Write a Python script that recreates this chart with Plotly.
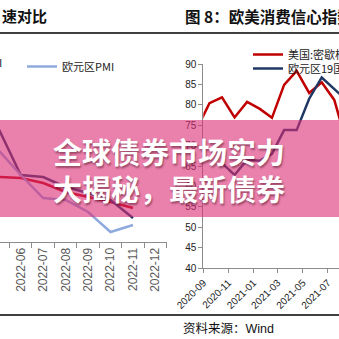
import plotly.graph_objects as go

W = H = 339


def px(x):
    return x / W


def py(y):
    return 1 - y / H


# ---- left panel: PMI comparison ----
pmi_months = ["2022-05", "2022-06", "2022-07", "2022-08", "2022-09", "2022-10", "2022-11"]
pmi_axis_months = pmi_months + ["2022-12"]
us_pmi = [56.8, 52.1, 51.9, 50.9, 50.3, 49.6, 47.8]
cn_pmi = [51.9, 51.8, 51.3, 50.4, 49.9, 49.4, 48.8]
ez_pmi = [54.6, 52.1, 49.8, 49.6, 48.4, 46.4, 47.1]

# ---- right panel: consumer confidence ----
us_months = ["2020-08", "2020-09", "2020-10", "2020-11", "2020-12", "2021-01", "2021-02",
             "2021-03", "2021-04", "2021-05", "2021-06", "2021-07", "2021-08"]
us_sent = [74.1, 80.4, 81.8, 76.9, 80.7, 79.0, 76.8, 84.9, 88.3, 82.9, 85.5, 81.2, 70.3]
ez_months = ["2020-10", "2020-11", "2020-12", "2021-01", "2021-02", "2021-03", "2021-04",
             "2021-05", "2021-06", "2021-07", "2021-08"]
ez_conf = [65.7, 62.8, 66.5, 66.3, 68.0, 73.8, 73.8, 81.5, 86.7, 83.9, 81.0]

name_us_pmi = "美国PMI"
name_cn_pmi = "中国PMI"
name_ez_pmi = "欧元区PMI"
name_us_sent = "美国:密歇根大学消费者信心指数"
name_ez_conf = "欧元区19国:消费者信心指数"

NAVY = "#1F3864"
RED = "#C00000"
LIGHT_BLUE = "#8FAADC"
CJK = "Noto Sans CJK SC"
LAT = "Liberation Sans, Noto Sans CJK SC"

fig = go.Figure()

fig.add_trace(go.Scatter(x=pmi_months, y=cn_pmi, mode="lines", name=name_cn_pmi,
                         line=dict(color=RED, width=2.5), showlegend=False,
                         xaxis="x", yaxis="y"))
fig.add_trace(go.Scatter(x=pmi_months, y=us_pmi, mode="lines", name=name_us_pmi,
                         line=dict(color=NAVY, width=2.5), showlegend=False,
                         xaxis="x", yaxis="y"))
fig.add_trace(go.Scatter(x=pmi_months, y=ez_pmi, mode="lines", name=name_ez_pmi,
                         line=dict(color=LIGHT_BLUE, width=2.5), legend="legend",
                         xaxis="x", yaxis="y"))

fig.add_trace(go.Scatter(x=us_months, y=us_sent, mode="lines", name=name_us_sent,
                         xperiod="M1", xperiodalignment="middle",
                         line=dict(color=RED, width=2.5), legend="legend2",
                         xaxis="x2", yaxis="y2"))
fig.add_trace(go.Scatter(x=ez_months, y=ez_conf, mode="lines", name=name_ez_conf,
                         xperiod="M1", xperiodalignment="middle",
                         line=dict(color=NAVY, width=2.5), legend="legend3",
                         xaxis="x2", yaxis="y2"))

legend_font = dict(family=CJK, size=11, color="#222")
fig.update_layout(
    width=W, height=H,
    margin=dict(l=0, r=0, t=0, b=0, pad=0, autoexpand=False),
    paper_bgcolor="white", plot_bgcolor="rgba(0,0,0,0)",
    xaxis=dict(
        domain=[0, px(166.7)], type="category",
        categoryorder="array", categoryarray=pmi_axis_months,
        range=[0.076, 7.5], tickson="boundaries",
        showline=True, linecolor="#8c8c8c", linewidth=1,
        ticks="outside", ticklen=5, tickcolor="#8c8c8c",
        tickangle=-90, tickfont=dict(family=LAT, size=12, color="#595959"),
        showgrid=False, zeroline=False, fixedrange=True,
    ),
    yaxis=dict(domain=[py(242), py(70)], range=[45.4, 62.6], visible=False),
    xaxis2=dict(
        domain=[px(203.3), 1], type="date",
        range=["2020-09-01", "2021-07-28"],
        tick0="2020-09-01", dtick="M2", tickformat="%Y-%m",
        showline=True, linecolor="#8c8c8c", linewidth=1,
        ticks="outside", ticklen=4, tickcolor="#8c8c8c",
        tickangle=-45, tickfont=dict(family=LAT, size=10, color="#222"),
        showgrid=False, zeroline=False, anchor="y2",
    ),
    yaxis2=dict(
        domain=[py(268), py(64)], range=[40, 90], dtick=5,
        showline=True, linecolor="#8c8c8c", linewidth=1,
        ticks="outside", ticklen=4, tickcolor="#8c8c8c",
        tickfont=dict(family=LAT, size=10, color="#222"),
        showgrid=False, zeroline=False, anchor="x2",
    ),
    legend=dict(x=px(22), y=py(52), xanchor="left", yanchor="top",
                orientation="h", bgcolor="rgba(0,0,0,0)", font=legend_font),
    legend2=dict(x=px(248), y=py(40), xanchor="left", yanchor="top",
                 bgcolor="rgba(0,0,0,0)", font=legend_font),
    legend3=dict(x=px(248), y=py(54), xanchor="left", yanchor="top",
                 bgcolor="rgba(0,0,0,0)", font=legend_font),
)

# header / footer rules
for yy in (33, 315):
    fig.add_shape(type="line", xref="paper", yref="paper", x0=0, x1=1,
                  y0=py(yy), y1=py(yy), line=dict(color="black", width=1.5))

# pink banner across the middle
fig.add_shape(type="rect", xref="paper", yref="paper", x0=0, x1=1,
              y0=py(217), y1=py(120), layer="above",
              fillcolor="rgba(220,45,118,0.6)", line=dict(width=0))

annos = [
    dict(text="速对比", x=px(49), y=py(15.5), xanchor="right", yanchor="middle",
         font=dict(family=CJK, size=15, color="#111", weight="bold")),
    dict(text="图 8：欧美消费信心指数", x=px(183), y=py(15.5), xanchor="left", yanchor="middle",
         font=dict(family=CJK, size=15.5, color="#111", weight="bold")),
    dict(text=name_us_pmi, x=px(3.5), y=py(62), xanchor="right", yanchor="middle",
         font=legend_font),
    dict(text="资料来源：Wind", x=px(181), y=py(329), xanchor="left", yanchor="middle",
         font=dict(family=LAT, size=12.5, color="#111")),
    dict(text="全球债券市场实力", x=px(51), y=py(150.5), xanchor="left", yanchor="middle",
         font=dict(family=CJK, size=29, color="white", weight="bold",
                   shadow="1px 2px 2px rgba(60,0,20,0.45)")),
    dict(text="大揭秘，最新债券", x=px(51), y=py(188), xanchor="left", yanchor="middle",
         font=dict(family=CJK, size=29, color="white", weight="bold",
                   shadow="1px 2px 2px rgba(60,0,20,0.45)")),
]
for a in annos:
    fig.add_annotation(xref="paper", yref="paper", showarrow=False, **a)

fig.write_html("out.html")
